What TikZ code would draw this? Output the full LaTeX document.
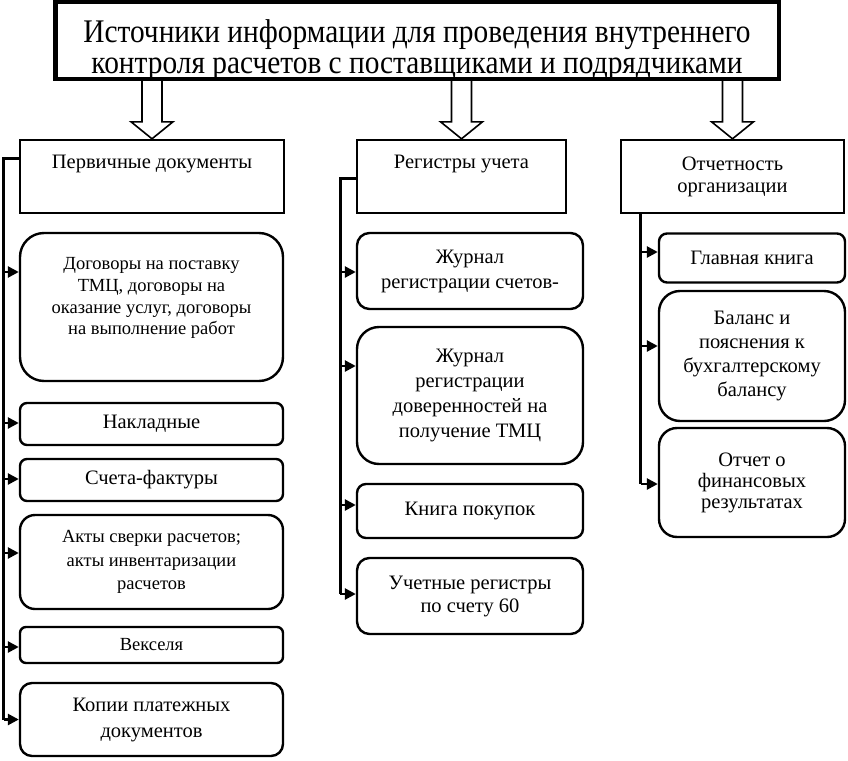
\documentclass[tikz,border=0pt]{standalone}
\usepackage{fontspec}
\setmainfont{Liberation Serif}
\newfontfamily\titlefont[FakeStretch=0.89]{Liberation Serif}
\usetikzlibrary{arrows.meta,calc}
\begin{document}
\begin{tikzpicture}[x=1pt,y=-1pt,
  box/.style={draw, line width=2.4pt, align=center, inner sep=1pt},
  rbox/.style={draw, line width=2.4pt, align=center, inner sep=1pt},
  tA/.style={font=\fontsize{20.5}{23.5}\selectfont},
  tB/.style={font=\fontsize{18.5}{22}\selectfont},
  bus/.style={line width=3pt},
  arr/.style={line width=2.6pt, -{Triangle[length=11pt,width=11pt]}},
  hollow/.style={draw, line width=1.6pt, fill=white, line join=miter},
]
\useasboundingbox (0,0) rectangle (848,760);

% title
\begin{scope}
  \clip (57.5,4.5) rectangle (776.5,77);
  \node[align=center, font=\titlefont\fontsize{33}{31}\selectfont] (titletext) at (417,50)
    {Источники информации для проведения внутреннего\\контроля расчетов с поставщиками и подрядчиками};
\end{scope}
\node[draw, line width=4.5pt, minimum width=723.5pt, minimum height=76.5pt] (title) at (417,40.5) {};

% second level
\node[box, tA, minimum width=264pt, minimum height=73pt] (pd) at (152,176.5) {Первичные документы\\[6pt]~};
\node[box, tA, minimum width=209pt, minimum height=73pt] (rg) at (461.5,176.5) {Регистры учета\\[6pt]~};
\node[box, tA, font=\fontsize{20.5}{22}\selectfont, minimum width=223pt, minimum height=73pt] (ot) at (732.5,176.5) {Отчетность\\организации};

% block arrows
\foreach \nm in {pd,rg,ot}{
  \draw[hollow] let \p1=(\nm.north), \p2=(title.south) in
    (\x1-10pt,\y2) -- (\x1-10pt,\y1+17pt) -- (\x1-21pt,\y1+17pt) -- (\x1,\y1)
    -- (\x1+21pt,\y1+17pt) -- (\x1+10pt,\y1+17pt) -- (\x1+10pt,\y2);
}

% left column
\node[rbox, tB, font=\fontsize{18.5}{21.7}\selectfont, minimum width=263pt, minimum height=148pt, rounded corners=24pt] (d1) at (151.5,307)
  {Договоры на поставку\\ТМЦ, договоры на\\оказание услуг, договоры\\на выполнение работ\\~};
\node[rbox, tA, minimum width=263pt, minimum height=42pt, rounded corners=7pt] (d2) at (151.5,424) {Накладные};
\node[rbox, tA, minimum width=263pt, minimum height=42pt, rounded corners=7pt] (d3) at (151.5,480) {Счета-фактуры};
\node[rbox, tB, font=\fontsize{18.5}{23.5}\selectfont, minimum width=263pt, minimum height=94pt, rounded corners=15pt] (d4) at (151.5,562)
  {Акты сверки расчетов;\\акты инвентаризации\\расчетов};
\node[rbox, tB, minimum width=263pt, minimum height=36pt, rounded corners=6pt] (d5) at (151.5,645) {Векселя};
\node[rbox, tA, font=\fontsize{20.5}{26}\selectfont, minimum width=263pt, minimum height=73pt, rounded corners=12pt] (d6) at (151.5,719.5)
  {Копии платежных\\документов};

% middle column
\node[rbox, tA, font=\fontsize{20.5}{25}\selectfont, minimum width=226pt, minimum height=76pt, rounded corners=12.5pt] (r1) at (470,271)
  {Журнал\\регистрации счетов-};
\node[rbox, tA, font=\fontsize{20.5}{24.7}\selectfont, minimum width=226pt, minimum height=137pt, rounded corners=22pt] (r2) at (470,395.5)
  {Журнал\\регистрации\\доверенностей на\\получение ТМЦ};
\node[rbox, tA, minimum width=226pt, minimum height=54pt, rounded corners=9pt] (r3) at (470,511) {Книга покупок};
\node[rbox, tA, font=\fontsize{20.5}{23}\selectfont, minimum width=226pt, minimum height=76pt, rounded corners=12.5pt] (r4) at (470,596)
  {Учетные регистры\\по счету 60};

% right column
\node[rbox, tA, minimum width=186pt, minimum height=49pt, rounded corners=8pt] (o1) at (752,258) {Главная книга};
\node[rbox, tA, font=\fontsize{20.5}{24}\selectfont, minimum width=186pt, minimum height=130pt, rounded corners=21pt] (o2) at (752,356)
  {Баланс и\\пояснения к\\бухгалтерскому\\балансу};
\node[rbox, tA, font=\fontsize{20.5}{21}\selectfont, minimum width=186pt, minimum height=109pt, rounded corners=18pt] (o3) at (752,482.5)
  {Отчет о\\финансовых\\результатах};

% buses
\coordinate (lb) at (3.5,158.5);
\coordinate (mb) at (340,178);
\coordinate (rb) at (640.5,484);
\draw[bus] (pd.west |- lb) -- (lb) -- (lb |- d6.west);
\draw[bus] (rg.west |- mb) -- (mb) -- (mb |- 0,594);
\draw[bus] (rb |- ot.south) -- (rb);

% arrows into boxes
\draw[arr] (lb |- 0,272) -- (d1.west |- 0,272);
\draw[arr] (lb |- 0,423) -- (d2.west |- 0,423);
\draw[arr] (lb |- 0,479) -- (d3.west |- 0,479);
\draw[arr] (lb |- 0,553) -- (d4.west |- 0,553);
\draw[arr] (lb |- 0,647) -- (d5.west |- 0,647);
\draw[arr] (lb |- d6.west) -- (d6.west);

\draw[arr] (mb |- 0,272) -- (r1.west |- 0,272);
\draw[arr] (mb |- 0,366) -- (r2.west |- 0,366);
\draw[arr] (mb |- 0,505) -- (r3.west |- 0,505);
\draw[arr] (mb |- 0,594) -- (r4.west |- 0,594);

\draw[arr] (rb |- 0,252) -- (o1.west |- 0,252);
\draw[arr] (rb |- 0,346) -- (o2.west |- 0,346);
\draw[arr] (rb) -- (o3.west |- rb);
\end{tikzpicture}
\end{document}
